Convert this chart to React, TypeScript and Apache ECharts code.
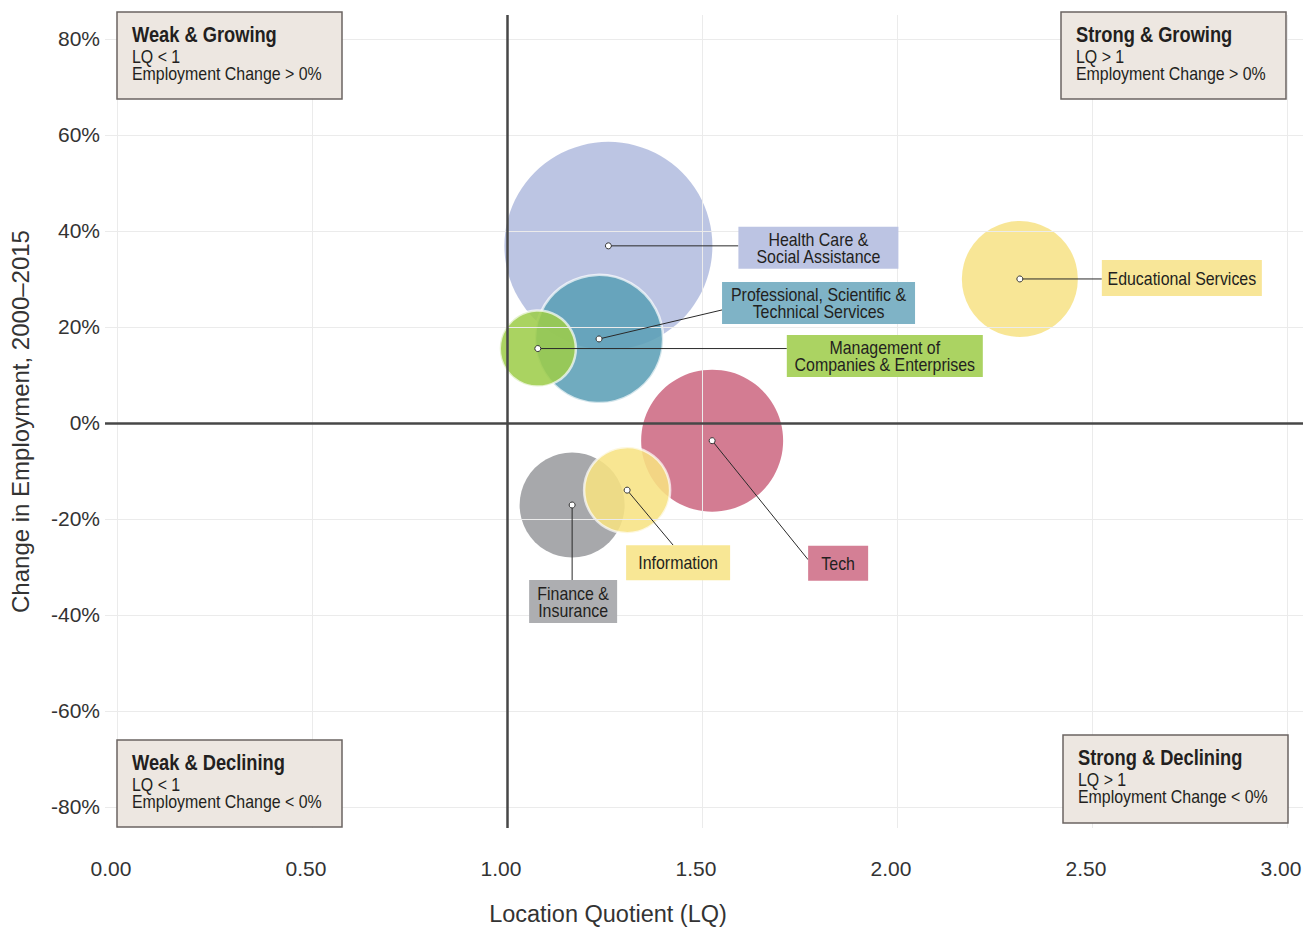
import React, { useEffect, useRef } from "react";
import * as echarts from "echarts";

// ---------- data ----------
const industries = [
  "Health Care & Social Assistance",
  "Professional, Scientific & Technical Services",
  "Management of Companies & Enterprises",
  "Tech",
  "Finance & Insurance",
  "Information",
  "Educational Services",
];
const labelLines = [
  ["Health Care &", "Social Assistance"],
  ["Professional, Scientific &", "Technical Services"],
  ["Management of", "Companies & Enterprises"],
  ["Tech"],
  ["Finance &", "Insurance"],
  ["Information"],
  ["Educational Services"],
];
const locationQuotient = [1.26, 1.236, 1.079, 1.526, 1.167, 1.308, 2.315];
const employmentChange = [36.9, 17.5, 15.5, -3.7, -17.1, -14.0, 30.0];
// relative employment size (Health Care = 100), bubble area proportional
const relativeEmployment = [100, 38, 13.4, 46.6, 25.5, 17.1, 31.1];

const quadrantTitles = ["Weak & Growing", "Strong & Growing", "Weak & Declining", "Strong & Declining"];
const quadrantLQ = ["LQ < 1", "LQ > 1", "LQ < 1", "LQ > 1"];
const quadrantChange = [
  "Employment Change > 0%",
  "Employment Change > 0%",
  "Employment Change < 0%",
  "Employment Change < 0%",
];

// ---------- styles / layout ----------
const SANS = "'Liberation Sans', Arial, Helvetica, sans-serif";
const NARROW_SCALE = 0.91;
const bubbleColors = ["#b2bcdf", "#5b9fb5", "#9dcc49", "#cc6882", "#9a9b9e", "#f7e282", "#f7e286"];
const bubbleBorder = [false, true, true, false, false, true, false];
const labelBoxColors = ["#bcc4e3", "#7fb3c6", "#abd362", "#d47f95", "#adaeb1", "#f8e795", "#f8e698"];
const labelLayout = [
  { dx: 130, dy: -19, w: 160, h: 42, lx: 130, ly: 0 },
  { dx: 123, dy: -57, w: 193, h: 42, lx: 123, ly: -29 },
  { dx: 249, dy: -13.5, w: 196, h: 42, lx: 249, ly: 0 },
  { dx: 96, dy: 105, w: 60, h: 35, lx: 96, ly: 119 },
  { dx: -43, dy: 75, w: 88, h: 43, lx: 0, ly: 75 },
  { dx: -1, dy: 55, w: 104, h: 35, lx: 46, ly: 55 },
  { dx: 82, dy: -19, w: 160, h: 36, lx: 82, ly: 0 },
];
const quadrantBoxes = [
  { x: 117, y: 12, w: 225, h: 87 },
  { x: 1061, y: 12, w: 225, h: 87 },
  { x: 117, y: 740, w: 225, h: 87 },
  { x: 1063, y: 735, w: 225, h: 88 },
];
const BOX_Z = 20;

function buildOption() {
  const scatterData = locationQuotient.map((lq, i) => ({
    name: industries[i],
    value: [lq, employmentChange[i], relativeEmployment[i]],
    itemStyle: {
      color: bubbleColors[i],
      opacity: 0.87,
      borderColor: bubbleBorder[i] ? "rgba(255,255,255,0.8)" : "transparent",
      borderWidth: bubbleBorder[i] ? 2.5 : 0,
    },
  }));
  const annoData = locationQuotient.map((lq, i) => [lq, employmentChange[i], i]);

  const quadrantGraphics: any[] = [];
  quadrantBoxes.forEach((b, i) => {
    quadrantGraphics.push(
      {
        type: "rect",
        z: BOX_Z,
        shape: { x: b.x, y: b.y, width: b.w, height: b.h },
        style: { fill: "#ede7e1", stroke: "#6b6461", lineWidth: 1.5 },
      },
      {
        type: "text",
        z: BOX_Z + 1,
        x: b.x + 15,
        y: b.y + 22,
        scaleX: 0.85,
        style: {
          text: quadrantTitles[i],
          fill: "#231f20",
          fontFamily: SANS,
          fontWeight: "bold",
          fontSize: 21.5,
          verticalAlign: "middle",
        },
      },
      {
        type: "text",
        z: BOX_Z + 1,
        x: b.x + 15,
        y: b.y + 45.5,
        scaleX: NARROW_SCALE,
        style: { text: quadrantLQ[i], fill: "#231f20", fontFamily: SANS, fontSize: 17.5, verticalAlign: "middle" },
      },
      {
        type: "text",
        z: BOX_Z + 1,
        x: b.x + 15,
        y: b.y + 62.5,
        scaleX: NARROW_SCALE,
        style: { text: quadrantChange[i], fill: "#231f20", fontFamily: SANS, fontSize: 17.5, verticalAlign: "middle" },
      }
    );
  });

  return {
    animation: false,
    backgroundColor: "#ffffff",
    grid: { left: 105, right: 9, top: 15, bottom: 101, containLabel: false },
    xAxis: {
      type: "value",
      min: -12 / 390,
      max: 3 + 16 / 390,
      splitNumber: 6,
      z: 3,
      axisLine: { show: false },
      axisTick: { show: false },
      axisLabel: {
        showMinLabel: false,
        showMaxLabel: false,
        margin: 30,
        fontSize: 21,
        color: "#333",
        fontFamily: SANS,
        padding: [0, 12, 0, 0],
        formatter: (v: number) => v.toFixed(2),
      },
      splitLine: { show: true, showMinLine: false, showMaxLine: false, lineStyle: { color: "#ebebeb", width: 1 } },
    },
    yAxis: {
      type: "value",
      min: -84.4,
      max: 85,
      splitNumber: 8,
      z: 3,
      name: "Change in Employment, 2000–2015",
      nameLocation: "middle",
      nameGap: 73,
      nameTextStyle: { fontSize: 24, color: "#333", fontFamily: SANS },
      axisLine: { show: false },
      axisTick: { show: false },
      axisLabel: {
        showMinLabel: false,
        showMaxLabel: false,
        margin: 5,
        fontSize: 21,
        color: "#333",
        fontFamily: SANS,
        formatter: (v: number) => `${Math.round(v)}%`,
      },
      splitLine: { show: true, showMinLine: false, showMaxLine: false, lineStyle: { color: "#ebebeb", width: 1 } },
    },
    series: [
      {
        type: "scatter",
        z: 2,
        silent: true,
        data: scatterData,
        symbol: "circle",
        symbolSize: (val: number[]) => 208 * Math.sqrt(val[2] / 100),
        markLine: {
          silent: true,
          symbol: "none",
          z: 5,
          label: { show: false },
          lineStyle: { color: "#474747", width: 2.5, type: "solid" },
          data: [{ xAxis: 1 }, { yAxis: 0 }],
        },
      },
      {
        type: "custom",
        z: 8,
        silent: true,
        data: annoData,
        renderItem: (params: any, api: any) => {
          const i = params.dataIndex;
          const p = api.coord([api.value(0), api.value(1)]);
          const L = labelLayout[i];
          const bx = p[0] + L.dx;
          const by = p[1] + L.dy;
          const lines = labelLines[i];
          const lh = 17;
          const children: any[] = [
            {
              type: "line",
              shape: { x1: p[0], y1: p[1], x2: p[0] + L.lx, y2: p[1] + L.ly },
              style: { stroke: "#2a2a2a", lineWidth: 1 },
            },
            {
              type: "rect",
              shape: { x: bx, y: by, width: L.w, height: L.h },
              style: { fill: labelBoxColors[i] },
            },
          ];
          lines.forEach((t, k) => {
            children.push({
              type: "text",
              x: bx + L.w / 2,
              y: by + L.h / 2 + 1 + (k - (lines.length - 1) / 2) * lh,
              scaleX: NARROW_SCALE,
              style: {
                text: t,
                fill: "#231f20",
                fontFamily: SANS,
                fontSize: 17.5,
                align: "center",
                verticalAlign: "middle",
              },
            });
          });
          children.push({
            type: "circle",
            shape: { cx: p[0], cy: p[1], r: 3 },
            style: { fill: "#ffffff", stroke: "#333333", lineWidth: 1 },
          });
          return { type: "group", children };
        },
      },
    ],
    graphic: [
      ...quadrantGraphics,
      {
        type: "text",
        x: 608,
        y: 914,
        z: BOX_Z,
        style: {
          text: "Location Quotient (LQ)",
          fill: "#333",
          fontFamily: SANS,
          fontSize: 23.5,
          align: "center",
          verticalAlign: "middle",
        },
      },
    ],
  };
}

export default function App() {
  const ref = useRef<HTMLDivElement>(null);
  useEffect(() => {
    if (!ref.current) return;
    const chart = echarts.init(ref.current, undefined, { renderer: "svg" });
    chart.setOption(buildOption() as any);
    return () => chart.dispose();
  }, []);
  return (
    <div
      ref={ref}
      style={{ position: "fixed", left: 0, top: 0, width: 1312, height: 929, background: "#fff" }}
    />
  );
}
